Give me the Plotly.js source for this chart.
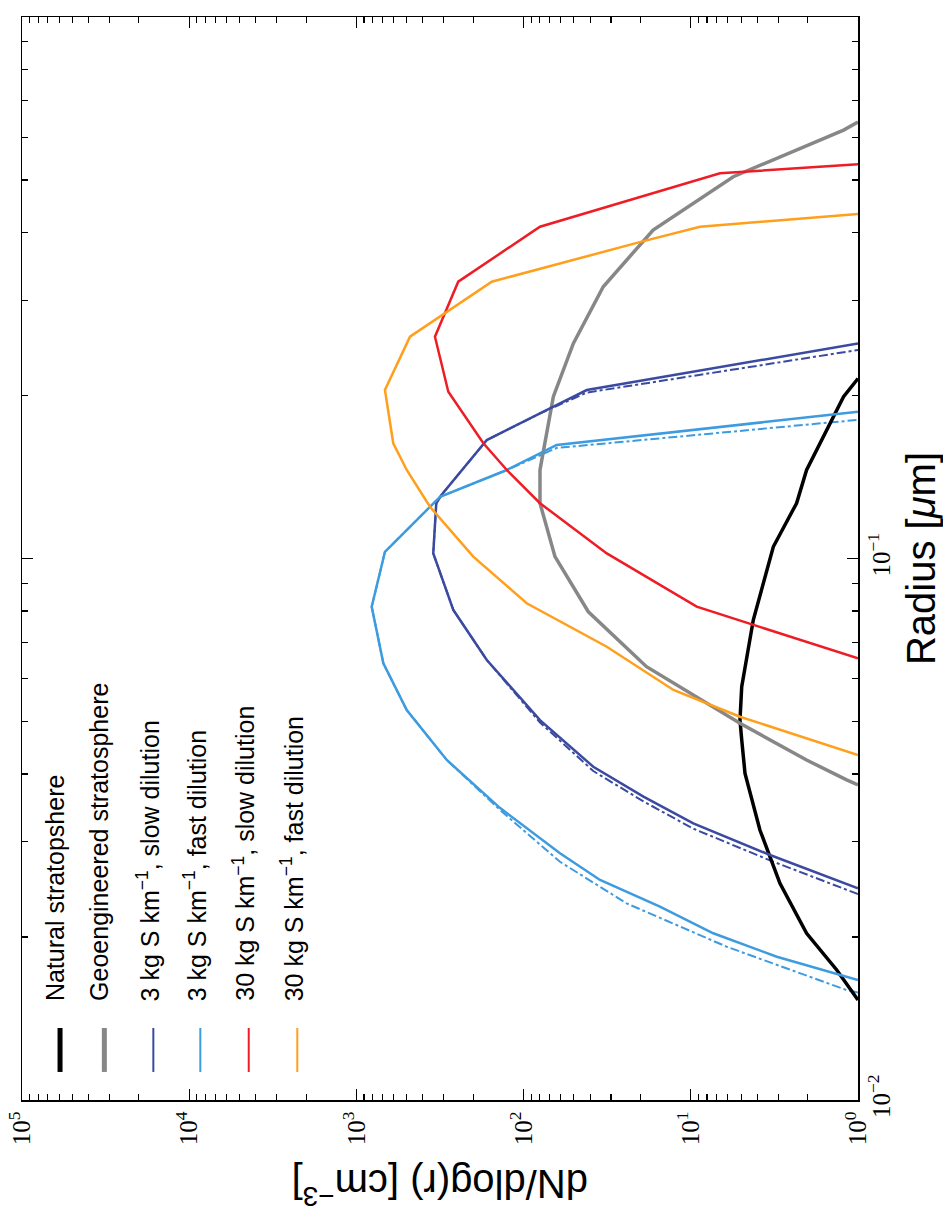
<!DOCTYPE html>
<html>
<head>
<meta charset="utf-8">
<script src="https://cdn.plot.ly/plotly-3.0.1.min.js"></script>
<style>
html,body{margin:0;padding:0;overflow:hidden;background:#fff;}
#chart{width:943px;height:1216px;}
</style>
</head>
<body>
<div id="chart"></div>
<script>
// Radius [um] and dN/dlog(r) [cm^-3] (figure is shown rotated:
// radius runs up the right side, dN/dlog(r) runs right-to-left along the bottom)
const naturalR = [0.0153, 0.01738, 0.02032, 0.02513, 0.03152, 0.04011, 0.04623, 0.0503, 0.05798, 0.07697, 0.1051, 0.1265, 0.1457, 0.199, 0.215];
const naturalN = [1.0, 1.34, 2.03, 2.93, 3.86, 4.74, 4.96, 5.08, 4.96, 4.23, 3.21, 2.33, 2.03, 1.22, 1.0];

const geoR = [0.0382, 0.0390, 0.04245, 0.04962, 0.06313, 0.07973, 0.1008, 0.1265, 0.1457, 0.199, 0.2496, 0.3176, 0.4043, 0.5071, 0.6183, 0.640];
const geoN = [1.0, 1.17, 2.03, 5.08, 18.4, 41.0, 64.9, 79.8, 79.8, 66.4, 50.4, 33.4, 16.8, 5.57, 1.22, 1.0];

const slow3R = [0.0246, 0.02834, 0.03243, 0.03632, 0.04125, 0.0503, 0.06495, 0.08031, 0.1022, 0.1265, 0.131, 0.1655, 0.1853, 0.2047, 0.2496];
const slow3N = [1.0, 3.36, 9.66, 19.2, 38.3, 79.8, 166, 263, 347, 333, 310, 166, 79.8, 41.9, 1.0];
const slow3DashR = [0.0240, 0.0277, 0.0317, 0.0356, 0.0405, 0.0498, 0.06495, 0.08031, 0.1022, 0.1265, 0.131, 0.1655, 0.1853, 0.2025, 0.2427];
const slow3DashN = [1.0, 3.36, 9.66, 19.2, 38.3, 79.8, 166, 263, 347, 333, 310, 166, 79.8, 41.9, 1.0];

const fast3R = [0.01665, 0.01839, 0.02032, 0.02275, 0.02549, 0.02855, 0.0346, 0.04245, 0.0525, 0.06404, 0.08147, 0.1029, 0.13, 0.1457, 0.1621, 0.1866];
const fast3N = [1.0, 3.06, 7.34, 15.3, 34.9, 60.6, 138, 288, 500, 690, 810, 675, 316, 126, 63.4, 1.0];
const fast3DashR = [0.0158, 0.01596, 0.01919, 0.02307, 0.02754, 0.0343, 0.04245, 0.0525, 0.06404, 0.08147, 0.1029, 0.13, 0.1457, 0.1600, 0.1803];
const fast3DashN = [1.0, 1.17, 6.10, 24.2, 60.6, 138, 288, 500, 690, 810, 675, 316, 126, 63.4, 1.0];

const slow30R = [0.06541, 0.07593, 0.08147, 0.1022, 0.1265, 0.1457, 0.1632, 0.2032, 0.2568, 0.3245, 0.41, 0.5146, 0.5346];
const slow30N = [1.0, 4.43, 9.22, 31.8, 79.8, 126, 174, 282, 339, 246, 79.8, 6.69, 1.0];

const fast30R = [0.04336, 0.05102, 0.05717, 0.06871, 0.08265, 0.1008, 0.1246, 0.1457, 0.1632, 0.2047, 0.2568, 0.3245, 0.3847, 0.41, 0.4327];
const fast30N = [1.0, 5.08, 12.7, 31.8, 95.8, 200, 363, 500, 602, 675, 478, 155, 19.7, 8.81, 1.0];

const seriesNames = [
  'Natural stratopshere',
  'Geoengineered stratosphere',
  '3 kg S km<sup>\u22121</sup>, slow dilution',
  '3 kg S km<sup>\u22121</sup>, fast dilution',
  '30 kg S km<sup>\u22121</sup>, slow dilution',
  '30 kg S km<sup>\u22121</sup>, fast dilution'
];

const rTickVals = [0.01, 0.1, 1];
const rTickText = ['10<sup>\u22122</sup>', '10<sup>\u22121</sup>', '10<sup>0</sup>'];
const rMinorVals = [0.02,0.03,0.04,0.05,0.06,0.07,0.08,0.09,0.2,0.3,0.4,0.5,0.6,0.7,0.8,0.9];
const nTickVals = [1, 10, 100, 1000, 10000, 100000];
const nTickText = ['10<sup>0</sup>', '10<sup>1</sup>', '10<sup>2</sup>', '10<sup>3</sup>', '10<sup>4</sup>', '10<sup>5</sup>'];
const nMinorVals = [2,3,4,5,6,7,8,9,20,30,40,50,60,70,80,90,200,300,400,500,600,700,800,900,2000,3000,4000,5000,6000,7000,8000,9000,20000,30000,40000,50000,60000,70000,80000,90000];

const colors = ['#000000', '#878787', '#3a4aa0', '#3d9be0', '#ee1d25', '#ff9f1c'];
const widths = [3.5, 3.5, 2.5, 2.5, 2.5, 2.5];
const legendWidths = [5, 5, 2, 2, 2, 2];

function line(r, n, name, color, width, dash) {
  // rotated figure: dN on the horizontal axis, radius on the vertical axis
  return {x: n, y: r, type: 'scatter', mode: 'lines', name: name, showlegend: false,
          hoverinfo: 'skip', line: {color: color, width: width, dash: dash || 'solid'}};
}

const traces = [
  line(slow3DashR, slow3DashN, '3 kg slow (alt)', colors[2], 2, 'dashdot'),
  line(fast3DashR, fast3DashN, '3 kg fast (alt)', colors[3], 2, 'dashdot'),
  line(naturalR, naturalN, seriesNames[0], colors[0], widths[0]),
  line(geoR, geoN, seriesNames[1], colors[1], widths[1]),
  line(slow3R, slow3N, seriesNames[2], colors[2], widths[2]),
  line(fast3R, fast3N, seriesNames[3], colors[3], widths[3]),
  line(slow30R, slow30N, seriesNames[4], colors[4], widths[4]),
  line(fast30R, fast30N, seriesNames[5], colors[5], widths[5])
];

const tickFont = {family: 'Liberation Serif, DejaVu Serif, serif', size: 25, color: '#000'};
const titleFont = {family: 'Liberation Sans, Arial, sans-serif', size: 40, color: '#000'};
const legendFont = {family: 'Liberation Sans, Arial, sans-serif', size: 25, color: '#000'};

const commonAxis = {
  type: 'log', showline: true, linecolor: '#000', linewidth: 1.5, mirror: 'allticks',
  ticks: 'inside', ticklen: 11, tickwidth: 1.3, tickcolor: '#000', tickmode: 'array',
  tickfont: tickFont, tickangle: -90, showgrid: false, zeroline: false, automargin: false
};

// Legend (drawn rotated like the rest of the figure): handle positions in paper units
const legendX = [0.0455, 0.0985, 0.1571, 0.2133, 0.2712, 0.3293];
const legendTextX = [0.0389, 0.0919, 0.1505, 0.2067, 0.2646, 0.3227];
const shapes = [], annotations = [];
for (let i = 0; i < seriesNames.length; i++) {
  shapes.push({type: 'line', xref: 'paper', yref: 'paper', x0: legendX[i], x1: legendX[i],
               y0: 0.0259, y1: 0.0665, line: {color: colors[i], width: legendWidths[i]}});
  annotations.push({xref: 'paper', yref: 'paper', x: legendTextX[i], y: 0.0895,
                    xanchor: 'center', yanchor: 'bottom', textangle: -90, showarrow: false,
                    text: seriesNames[i], font: legendFont});
}
annotations.push({xref: 'paper', yref: 'paper', x: 0.5, y: -0.0803, xanchor: 'center', yanchor: 'middle',
                  textangle: 180, showarrow: false, text: 'dN/dlog(r) [cm<sup>\u22123</sup>]', font: titleFont});

const layout = {
  width: 943, height: 1216,
  margin: {l: 22, r: 85, t: 17, b: 116, pad: 0},
  paper_bgcolor: '#ffffff', plot_bgcolor: '#ffffff',
  showlegend: false,
  xaxis: Object.assign({}, commonAxis, {
    range: [5, 0], tickvals: nTickVals, ticktext: nTickText, side: 'bottom',
    minor: {ticks: 'inside', ticklen: 6, tickwidth: 1.1, tickcolor: '#000', tickmode: 'array', tickvals: nMinorVals, showgrid: false}
  }),
  yaxis: Object.assign({}, commonAxis, {
    range: [-2, 0], tickvals: rTickVals, ticktext: rTickText, side: 'right',
    minor: {ticks: 'inside', ticklen: 6, tickwidth: 1.1, tickcolor: '#000', tickmode: 'array', tickvals: rMinorVals, showgrid: false},
    title: {text: 'Radius [<i>\u03bc</i>m]', font: titleFont, standoff: 18}
  }),
  shapes: shapes,
  annotations: annotations
};

Plotly.newPlot('chart', traces, layout, {staticPlot: true, displayModeBar: false});
</script>
</body>
</html>
